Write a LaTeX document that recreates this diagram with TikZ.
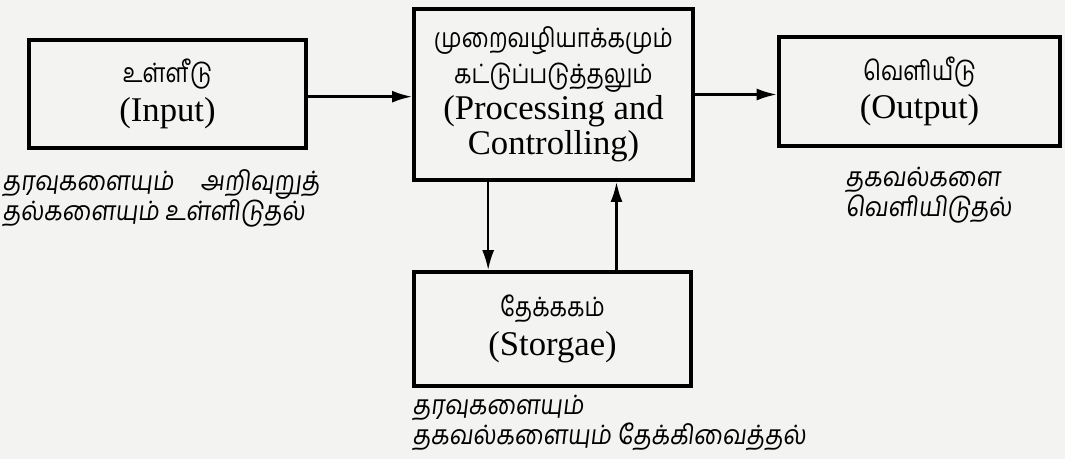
\documentclass[tikz,border=0pt]{standalone}
\usepackage{fontspec}
\setmainfont{Liberation Serif}
\newfontfamily\tamil[Script=Tamil,FakeStretch=0.85]{Hind Madurai}
\newfontfamily\tamilsl[Script=Tamil,FakeSlant=0.12,FakeStretch=0.9]{Hind Madurai}
\usetikzlibrary{arrows.meta}
\definecolor{paper}{HTML}{F3F3F1}
\newcommand\tm[1]{{\tamil\fontsize{20}{26}\selectfont #1}}

\begin{document}
\begin{tikzpicture}[x=0.75pt,y=-0.75pt,
    box/.style={draw,line width=3.2pt,fill=paper,align=center,inner sep=0pt,
      font=\fontsize{26}{26}\selectfont},
    flow/.style={line width=1.8pt,-{Latex[length=15pt,width=9pt]}},
    note/.style={anchor=north west,align=left,inner sep=0pt,
      font=\tamilsl\fontsize{20}{22.5}\selectfont}]
    \fill[paper] (0,0) rectangle (1065,459);
    \useasboundingbox (0,0) rectangle (1065,459);
    \node[box,minimum width=208pt,minimum height=81pt] (input) at (167.5,94) {\tm{உள்ளீடு}\\[3pt](Input)};
    \node[box,minimum width=209pt,minimum height=128pt] (proc) at (553.5,94.5) {\tm{முறைவழியாக்கமும்}\\[1pt]\tm{கட்டுப்படுத்தலும்}\\[1pt](Processing and\\Controlling)};
    \node[box,minimum width=211pt,minimum height=82pt] (output) at (919.5,91.5) {\tm{வெளியீடு}\\[3pt](Output)};
    \node[box,minimum width=208pt,minimum height=85pt] (store) at (552.5,329) {\tm{தேக்ககம்}\\[3pt](Storgae)};
    \node[note] (inlbl) at (2,169) {தரவுகளையும்\quad அறிவுறுத்\\தல்களையும் உள்ளிடுதல்};
    \node[note] (outlbl) at (845,167) {தகவல்களை\\வெளியிடுதல்};
    \node[note] (storelbl) at (412,395) {தரவுகளையும்\\தகவல்களையும் தேக்கிவைத்தல்};
    \draw[flow] ([yshift=-2pt]input.east) -- ([yshift=-2pt]input.east -| proc.west);
    \draw[flow] (proc.east) -- (proc.east -| output.west);
    \draw[flow] ([xshift=-49pt]proc.south) -- ([xshift=-49pt]proc.south |- store.north);
    \draw[flow] ([xshift=48pt]store.north) -- ([xshift=48pt]store.north |- proc.south);
  \end{tikzpicture}
\end{document}
